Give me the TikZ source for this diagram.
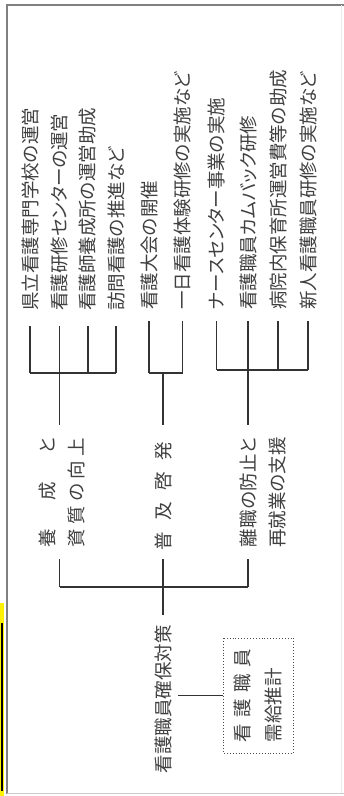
\documentclass[tikz,border=0pt]{standalone}
\usepackage{fontspec}
\setmainfont{Noto Sans CJK JP}[RawFeature={+palt}]
\begin{document}
\begin{tikzpicture}[x=1pt,y=-1pt,
  txt/.style={rotate=90, inner sep=0pt, text=black!75, font=\fontsize{18.5}{29}\selectfont},
  leaf/.style={txt, anchor=west},
  wire/.style={draw=black!80, line width=1.2pt},
  dotbox/.style={txt, draw=black!70, dotted, line width=0.9pt, minimum width=115pt, minimum height=70pt, align=left, font=\fontsize{18.5}{31}\selectfont}]
\useasboundingbox (0,0) rectangle (344,796);
% page frame
\fill[white] (0,0) rectangle (344,796);
\draw[black!50, line width=2pt] (7,794) -- (7,5) -- (344,5);
\draw[black!20, line width=1pt] (7,793.5) -- (344,793.5);
\draw[black!8, line width=1pt] (341,5) -- (341,793);
\fill[yellow] (0,603) rectangle (4,796);
\draw[black, line width=2pt] (2,623) -- (2,791);
% leaves
\node[leaf] (L1) at (30,311) {県立看護専門学校の運営};
\node[leaf] (L2) at (59.5,311) {看護研修センターの運営};
\node[leaf] (L3) at (88,311) {看護師養成所の運営助成};
\node[leaf] (L4) at (116,311) {訪問看護の推進など};
\node[leaf] (L5) at (149,310) {看護大会の開催};
\node[leaf] (L6) at (182.5,310) {一日看護体験研修の実施など};
\node[leaf] (L7) at (216.5,310) {ナースセンター事業の実施};
\node[leaf] (L8) at (248,310) {看護職員カムバック研修};
\node[leaf] (L9) at (278,310) {病院内保育所運営費等の助成};
\node[leaf] (L10) at (308,310) {新人看護職員研修の実施など};
% middle level
\node[txt, align=left] (M1) at (61.5,492.5) {\makebox[109pt]{養\hfill 成\hfill と}\\\makebox[109pt]{資\hfill 質\hfill の\hfill 向\hfill 上}};
\node[txt] (M2) at (163,496) {\makebox[108pt]{普\hfill 及\hfill 啓\hfill 発}};
\node[txt, align=left] (M3) at (262.5,492.5) {\makebox[109pt]{離\hfill 職\hfill の\hfill 防\hfill 止\hfill と}\\\makebox[109pt]{再\hfill 就\hfill 業\hfill の\hfill 支\hfill 援}};
% root and box
\node[txt] (R) at (163,699) {看護職員確保対策};
\node[dotbox] (B) at (258,695.5) {\makebox[93pt]{看\hfill 護\hfill 職\hfill 員}\\需給推計};
% junction levels
\coordinate (bA) at (0,373);
\coordinate (bB) at (0,373);
\coordinate (bC) at (0,370);
\coordinate (bM) at (0,587);
% group A
\foreach \n in {L1,L2,L3,L4} \draw[wire, shorten <=15pt] (\n.west) -- (\n.west |- bA);
\draw[wire] (L1.west |- bA) -- (L4.west |- bA);
\draw[wire, shorten >=13pt] (L2.west |- bA) -- (L2.west |- M1.east);
% group B
\foreach \n in {L5,L6} \draw[wire, shorten <=11pt] (\n.west) -- (\n.west |- bB);
\draw[wire] (L5.west |- bB) -- (L6.west |- bB);
\draw[wire, shorten >=17pt] (M2.east |- bB) -- (M2.east);
% group C
\foreach \n in {L7,L8,L9,L10} \draw[wire, shorten <=11pt] (\n.west) -- (\n.west |- bC);
\draw[wire] (L7.west |- bC) -- (L10.west |- bC);
\draw[wire, shorten >=13pt] (L8.west |- bC) -- (L8.west |- M3.east);
% lower level
\draw[wire, shorten <=12pt] (L2.west |- M1.west) -- (L2.west |- bM);
\draw[wire, shorten <=9pt] (M2.west) -- (M2.west |- bM);
\draw[wire, shorten <=12pt] (L8.west |- M3.west) -- (L8.west |- bM);
\draw[wire] (L2.west |- bM) -- (L8.west |- bM);
\draw[wire, shorten >=10pt] (M2.west |- bM) -- (R.east);
\draw[wire, shorten <=6pt] (R.south |- B.north) -- (B.north);
\end{tikzpicture}
\end{document}
